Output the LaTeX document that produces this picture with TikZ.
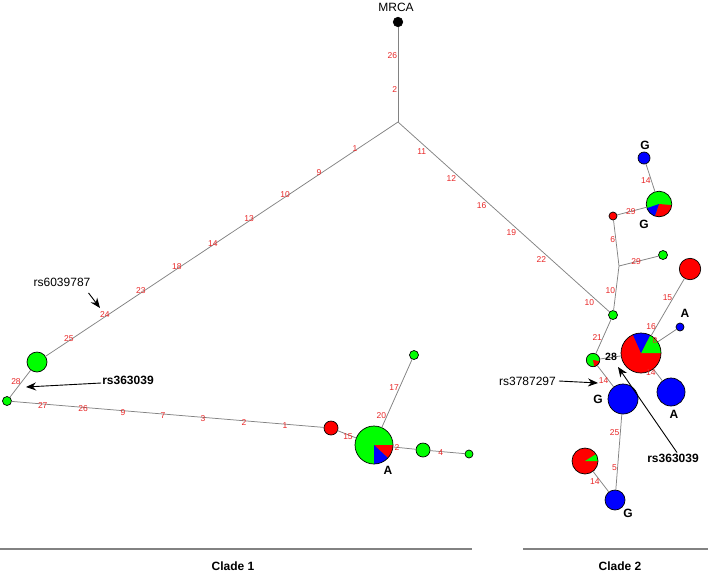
\documentclass[tikz,border=0pt]{standalone}
\usepackage{fontspec}
\setmainfont{Liberation Sans}
\usepackage{tikz}
\usetikzlibrary{arrows.meta}

\definecolor{pgreen}{RGB}{0,255,0}
\definecolor{pred}{RGB}{255,0,0}
\definecolor{pblue}{RGB}{0,0,255}
\definecolor{labred}{RGB}{232,40,40}
\definecolor{brgray}{RGB}{130,130,130}

% one wedge of a pie node, used inside path picture
\newcommand{\pieslice}[3]{\fill[#1] (path picture bounding box.center) -- ++(#2:40pt)
  arc[start angle=#2, end angle=#3, radius=40pt] -- cycle;}

\begin{document}
\begin{tikzpicture}[x=1pt,y=1pt,
  nd/.style={circle,draw=black,line width=0.7pt,inner sep=0pt,outer sep=0pt,
             minimum size=#1},
  gn/.style={nd=#1,fill=pgreen},
  rn/.style={nd=#1,fill=pred},
  bn/.style={nd=#1,fill=pblue},
  branch/.style={draw=brgray,line width=0.75pt},
  lab/.style={text=labred,font=\fontsize{8.5}{9}\selectfont,inner sep=0.5pt},
  labl/.style={lab,anchor=east},
  labd/.style={lab,anchor=north east},
  snp/.style={font=\fontsize{12}{14}\selectfont,inner sep=1pt},
  snpb/.style={font=\bfseries\fontsize{12}{14}\selectfont,inner sep=1pt},
  base/.style={font=\bfseries\fontsize{12}{14}\selectfont,inner sep=0pt},
  arr/.style={-{Stealth[length=10pt,width=8pt]},line width=0.9pt},
  rule/.style={draw=brgray,line width=1.3pt}
]
\useasboundingbox (0,0) rectangle (708,-573);

% root
\node[nd=9.5pt,fill=black] (mrca) at (398,-22) {};
\node[font=\fontsize{12}{14}\selectfont,inner sep=0pt] (mrcalab) at (396,-7) {MRCA};
\coordinate (root) at (398,-122);
\coordinate (junc) at (619,-266);

% clade 1
\node[gn=20pt] (c1a) at (37,-362) {};
\node[gn=9pt]  (c1b) at (7,-401) {};
\node[rn=14pt] (c1r) at (331,-428) {};
\node[nd=38pt,fill=pgreen,
      path picture={\pieslice{pred}{-43}{0}\pieslice{pblue}{-90}{-43}}] (c1p) at (374,-445) {};
\node[gn=14pt] (c1g) at (423,-450) {};
\node[gn=8pt]  (c1s) at (469,-454) {};
\node[gn=9pt]  (c1t) at (414,-355) {};

% clade 2
\node[gn=9pt]  (c2a)  at (613,-315) {};
\node[rn=8pt]  (c2r1) at (613,-216) {};
\node[gn=9pt]  (c2g2) at (663,-255) {};
\node[nd=25.6pt,fill=pgreen,
      path picture={\pieslice{pred}{-109}{-5}\pieslice{pblue}{-161}{-109}}] (c2p1) at (659,-204) {};
\node[bn=12pt] (c2b1) at (644,-158) {};
\node[nd=13.4pt,fill=pgreen,
      path picture={\pieslice{pred}{-80}{-10}}] (c2p2) at (593,-360) {};
\node[nd=40pt,fill=pred,
      path picture={\pieslice{pgreen}{0}{63}\pieslice{pblue}{63}{114}}] (c2p3) at (641,-353) {};
\node[rn=21.4pt] (c2r2) at (690,-269) {};
\node[bn=8pt]  (c2b3) at (680,-327) {};
\node[bn=28pt] (c2b4) at (671,-392) {};
\node[bn=30pt] (c2b2) at (623,-399) {};
\node[bn=20pt] (c2b5) at (615,-500) {};
\node[nd=26pt,fill=pred,
      path picture={\pieslice{pgreen}{0}{32}}] (c2p4) at (585,-461) {};

% branches
\draw[branch] (mrca) -- node[labl,pos=.307]{26} node[labl,pos=.654]{2} (root);
\draw[branch] (root) -- node[lab,yshift=2pt,pos=.122]{1} node[lab,yshift=2pt,pos=.224]{9}
  node[lab,yshift=2pt,pos=.320]{10} node[lab,yshift=2pt,pos=.422]{13}
  node[lab,yshift=2pt,pos=.525]{14} node[lab,yshift=2pt,pos=.627]{18}
  node[lab,yshift=2pt,pos=.729]{23} node[lab,yshift=2pt,pos=.831]{24}
  node[lab,yshift=2pt,pos=.933]{25} (c1a);
\draw[branch] (c1a) -- node[labl,pos=.44]{28} (c1b);
\draw[branch] (c1b) -- node[lab,yshift=-1.5pt,pos=.100]{27} node[lab,yshift=-1.5pt,pos=.229]{26}
  node[lab,yshift=-1.5pt,pos=.357]{9} node[lab,yshift=-1.5pt,pos=.485]{7}
  node[lab,yshift=-1.5pt,pos=.613]{3} node[lab,yshift=-1.5pt,pos=.744]{2}
  node[lab,yshift=-1.5pt,pos=.875]{1} (c1r);
\draw[branch] (c1r) -- node[lab,yshift=-2pt,pos=.556]{15} (c1p);
\draw[branch] (c1p) -- node[lab,pos=.18]{2} (c1g);
\draw[branch] (c1g) -- node[lab,yshift=-1pt,pos=.31]{4} (c1s);
\draw[branch] (c1p) -- node[labl,pos=.17]{20} node[labl,pos=.59]{17} (c1t);

\draw[branch] (root) -- node[labd,pos=.137]{11} node[labd,pos=.279]{12}
  node[labd,pos=.421]{16} node[labd,pos=.562]{19}
  node[labd,pos=.704]{22} node[labd,pos=.931]{10} (c2a);
\draw[branch] (c2a) -- node[labl,pos=.44]{10} (junc);
\draw[branch] (junc) -- node[labl,pos=.565]{6} (c2r1);
\draw[branch] (junc) -- node[lab,pos=.43]{29} (c2g2);
\draw[branch] (c2r1) -- node[lab,pos=.47]{29} (c2p1);
\draw[branch] (c2p1) -- node[labl,pos=.386]{14} (c2b1);
\draw[branch] (c2a) -- node[labl,pos=.54]{21} (c2p2);
\draw[branch] (c2p2) -- node[font=\bfseries\fontsize{10.5}{12}\selectfont,inner sep=0.5pt,pos=.53]{28} (c2p3);
\draw[branch] (c2p2) -- node[labl,pos=.72]{14} (c2b2);
\draw[branch] (c2p3) -- node[labl,pos=.168]{16} node[labl,pos=.656]{15} (c2r2);
\draw[branch] (c2p3) -- node[lab,yshift=3pt,pos=-.137]{8} (c2b3);
\draw[branch] (c2p3) -- node[labl,pos=.34]{14} (c2b4);
\draw[branch] (c2b2) -- node[labl,pos=.25]{25} node[labl,pos=.70]{5} (c2b5);
\draw[branch] (c2b5) -- node[labl,pos=.53]{14} (c2p4);

% alleles
\node[base] (a1) at (388,-470) {A};
\node[base] (g1) at (645,-145) {G};
\node[base] (g2) at (644,-224) {G};
\node[base] (a2) at (685,-313) {A};
\node[base] (a3) at (674,-414) {A};
\node[base] (g3) at (598,-399) {G};
\node[base] (g4) at (628,-513) {G};

% snp markers
\node[snp] (rs1) at (62,-282) {rs6039787};
\coordinate (rs1tip) at (100,-308);
\draw[arr] ([shift={(-3pt,-5.5pt)}]rs1.south east) -- (rs1tip);
\node[snpb] (rs2) at (128,-380) {rs363039};
\coordinate (rs2tip) at (26,-387);
\draw[arr] ([yshift=-3pt]rs2.west) -- (rs2tip);
\node[snp,anchor=east] (rs3) at (557,-381) {rs3787297};
\coordinate (rs3tip) at (598,-383);
\draw[arr] ([xshift=2pt]rs3.east) -- (rs3tip);
\node[snpb] (rs4) at (673,-458) {rs363039};
\coordinate (rs4tip) at (618,-367);
\draw[arr] ([xshift=4pt]rs4.north) -- (rs4tip);

% clades
\draw[rule] (0,-549) -- (472,-549);
\draw[rule] (523,-549) -- (708,-549);
\node[base] (cl1) at (233,-566) {Clade 1};
\node[base] (cl2) at (620,-566) {Clade 2};
\end{tikzpicture}
\end{document}
